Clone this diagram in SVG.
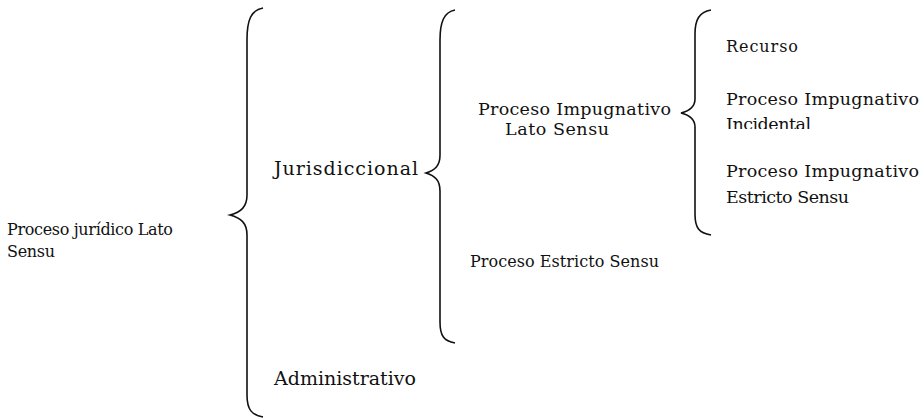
<svg xmlns="http://www.w3.org/2000/svg" width="924" height="418" viewBox="0 0 924 418">
<style>
text{font-family:"DejaVu Serif","Liberation Serif",serif;font-size:17.5px;fill:#111;}
.sm{font-size:16px;}
.lg{font-size:19px;}
.b{fill:none;stroke:#111;stroke-width:1.6;}
</style>
<defs>
<clipPath id="cut"><rect x="700" y="110" width="224" height="19"/></clipPath>
</defs>
<rect width="924" height="418" fill="#fff"/>
<g id="connectors">
<path class="b" d="M263,8 C251,10 247,20 247,40 L247,195 C247,207 241,212 230,215 C241,218 247,223 247,235 L247,395 C247,410 252,415 263,417"/>
<path class="b" d="M455,10 C444,12 440,22 440,40 L440,155 C440,166 435,170 426,173 C435,176 440,180 440,191 L440,322 C440,336 444,341 455,343"/>
<path class="b" d="M711,10 C699,12 695,20 695,34 L695,99 C695,107 689,111 681,113 C689,115 695,119 695,127 L695,214 C695,228 699,233 711,235"/>
</g>
<g id="root"><text class="sm" x="7" y="235" textLength="166" lengthAdjust="spacing">Proceso jurídico Lato</text><text class="sm" x="7" y="257" textLength="48" lengthAdjust="spacing">Sensu</text></g>
<g id="jurisdiccional"><text class="lg" x="274" y="175" textLength="144" lengthAdjust="spacing">Jurisdiccional</text></g>
<g id="administrativo"><text class="lg" x="274" y="385" textLength="142" lengthAdjust="spacing">Administrativo</text></g>
<g id="impugnativo-lato"><text x="478" y="115" textLength="193" lengthAdjust="spacing">Proceso Impugnativo</text><text x="505" y="135" textLength="104" lengthAdjust="spacing">Lato Sensu</text></g>
<g id="estricto"><text class="sm" x="470" y="267" textLength="189" lengthAdjust="spacing">Proceso Estricto Sensu</text></g>
<g id="recurso"><text class="sm" x="726" y="52" textLength="72" lengthAdjust="spacing">Recurso</text></g>
<g id="incidental"><text x="726" y="105" textLength="193" lengthAdjust="spacing">Proceso Impugnativo</text><text x="726" y="130" textLength="85" lengthAdjust="spacing" clip-path="url(#cut)">Incidental</text></g>
<g id="impugnativo-estricto"><text x="726" y="177" textLength="193" lengthAdjust="spacing">Proceso Impugnativo</text><text x="726" y="203" textLength="123" lengthAdjust="spacing">Estricto Sensu</text></g>
</svg>
